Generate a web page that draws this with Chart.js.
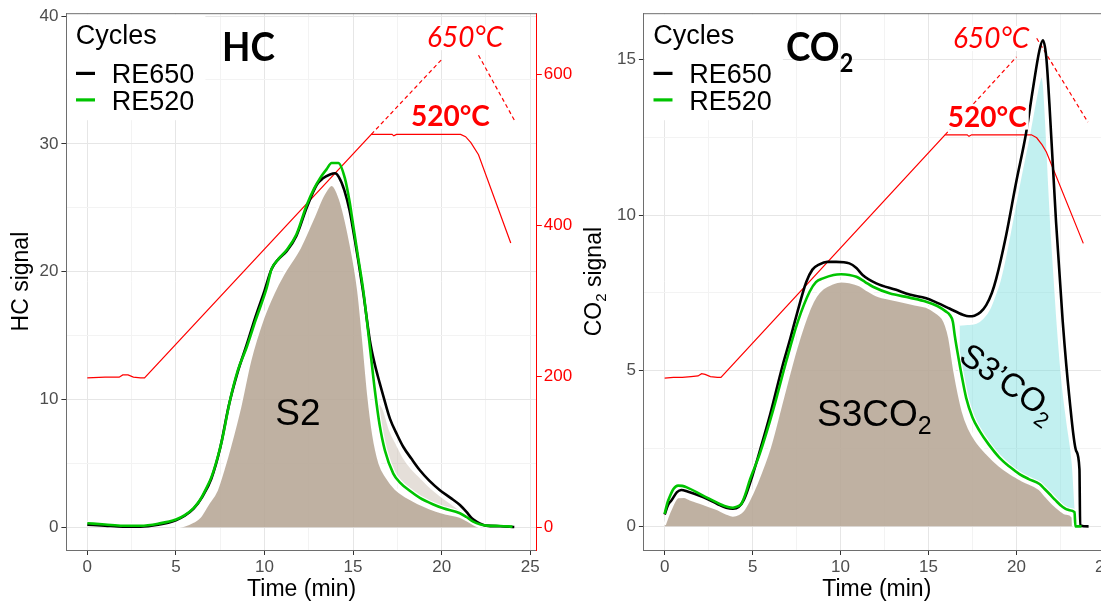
<!DOCTYPE html>
<html>
<head>
<meta charset="utf-8">
<title>HC and CO2 signals</title>
<script src="https://cdn.jsdelivr.net/npm/chart.js@4.4.1/dist/chart.umd.min.js"></script>
<style>
  html, body { margin: 0; padding: 0; background: #fff; overflow: hidden; }
  body { width: 1101px; height: 603px; position: relative; }
  canvas { position: absolute; top: 0; }
  #hcChart { left: 0; }
  #co2Chart { left: 575px; }
</style>
</head>
<body>
<canvas id="hcChart" width="585" height="603"></canvas>
<canvas id="co2Chart" width="585" height="603"></canvas>
<script>
// HC signal (left panel)
const hcTime650 = [0, 1, 2, 3, 4, 5, 5.5, 6, 6.5, 7, 7.5, 8, 8.5, 9, 9.5, 10, 10.4, 10.8, 11.25, 11.8, 12.38, 12.95, 13.3, 13.7, 13.98, 14.2, 14.5, 14.8, 15.0, 15.3, 15.58, 15.95, 16.2, 16.5, 16.7, 17.08, 17.5, 17.83, 18.3, 18.77, 19.3, 19.9, 20.5, 21.03, 21.4, 21.7, 21.97, 22.5, 23.3, 24.1];
const hc650 = [0.2, 0.12, 0.05, 0.05, 0.2, 0.55, 0.9, 1.45, 2.4, 3.8, 6.2, 9.6, 12.2, 14.3, 16.5, 18.5, 20.2, 21.0, 21.6, 22.8, 25.0, 26.8, 27.3, 27.6, 27.7, 27.4, 26.4, 24.8, 23.3, 20.8, 18.3, 14.6, 12.9, 11.3, 10.3, 8.5, 7.2, 6.3, 5.35, 4.46, 3.65, 2.9, 2.3, 1.74, 1.2, 0.7, 0.44, 0.13, 0.08, 0.02];

const hcTime520 = [0, 1, 2, 3, 4, 5, 5.5, 6, 6.36, 6.7, 7.0, 7.3, 7.6, 8.05, 8.5, 9.0, 9.5, 10.12, 10.4, 10.8, 11.25, 11.8, 12.38, 12.8, 13.13, 13.5, 13.79, 14.17, 14.54, 14.8, 15.0, 15.3, 15.58, 15.95, 16.24, 16.5, 16.8, 17.27, 17.65, 18.2, 18.77, 19.5, 20.09, 21.03, 21.4, 21.78, 22.2, 22.54, 23.3, 24.0];
const hc520 = [0.31, 0.22, 0.12, 0.12, 0.28, 0.6, 0.95, 1.5, 2.13, 3.0, 3.9, 5.2, 6.8, 9.9, 12.3, 14.1, 16.2, 18.7, 20.2, 21.0, 21.7, 22.9, 25.2, 26.5, 27.3, 28.0, 28.5, 28.5, 27.3, 25.5, 23.7, 21.0, 18.5, 14.1, 10.6, 8.0, 6.0, 4.2, 3.5, 2.85, 2.3, 1.8, 1.48, 1.1, 0.8, 0.44, 0.22, 0.13, 0.1, 0.05];

// S2 peak area and the RE650 tail beyond RE520
const s2Time = [5.0, 5.5, 6.0, 6.36, 6.8, 7.3, 7.7, 8.05, 8.62, 9.18, 9.93, 10.5, 11.06, 12.0, 12.75, 13.32, 13.79, 14.26, 14.83, 15.3, 15.58, 15.86, 16.14, 16.5, 16.9, 17.4, 18.0, 19.34, 20.2, 21.03, 21.5, 21.97, 22.2];
const s2Area = [0, 0.15, 0.45, 0.83, 1.8, 2.9, 4.6, 6.3, 9.4, 13.0, 16.4, 18.3, 19.8, 21.9, 24.2, 26.0, 26.8, 25.7, 22.4, 18.5, 14.6, 10.4, 7.3, 5.0, 3.9, 3.0, 2.4, 1.48, 1.1, 0.83, 0.5, 0.12, 0];
const hcTailTime = [16.3, 16.7, 17.08, 17.5, 17.83, 18.3, 18.77, 19.3, 19.9, 20.5, 21.03, 21.4, 21.7, 22.0];
const hcTail = [10.0, 9.3, 7.6, 6.4, 5.5, 4.6, 3.95, 3.2, 2.5, 1.9, 1.35, 0.85, 0.45, 0.2];

// oven temperature (°C), measured and extrapolated to 650
const hcTempTime = [0, 1.0, 1.8, 2.0, 2.3, 2.6, 3.0, 3.23, 16.03, 17.2, 17.3, 17.45, 21.07, 21.35, 21.65, 22.08, 23.9];
const hcTemp = [198, 199, 199, 202, 202, 199, 198, 198, 521, 521, 519, 521, 521, 518, 510, 494, 377];
const hcRampTime = [16.03, 20.07, 21.0, 22.08, 24.1];
const hcRamp = [521, 622, null, 626, 540];

// CO2 signal (right panel)
const co2Time650 = [0, 0.2, 0.38, 0.7, 0.95, 1.3, 2.18, 3.0, 3.5, 3.88, 4.2, 4.5, 5.0, 5.5, 6.0, 6.72, 7.1, 7.48, 8.05, 8.4, 8.8, 9.25, 9.75, 10.5, 10.9, 11.27, 12.03, 13.16, 13.92, 14.87, 15.5, 16.19, 16.95, 17.3, 17.61, 17.95, 18.28, 18.6, 18.85, 19.41, 19.98, 20.55, 20.93, 21.31, 21.5, 21.69, 21.88, 22.25, 22.63, 23.01, 23.39, 23.58, 23.62, 24.1];
const co2650 = [0.38, 0.7, 0.83, 1.1, 1.17, 1.12, 0.94, 0.72, 0.6, 0.57, 0.62, 0.85, 1.65, 2.6, 3.6, 5.2, 5.95, 6.75, 7.85, 8.25, 8.42, 8.5, 8.5, 8.45, 8.3, 8.07, 7.81, 7.6, 7.45, 7.33, 7.18, 7.0, 6.8, 6.75, 6.77, 6.88, 7.11, 7.5, 7.96, 9.35, 11.05, 12.65, 14.04, 15.31, 15.62, 15.1, 13.5, 9.78, 6.58, 4.13, 2.43, 1.84, 0.03, 0.0];

const co2Time520 = [0, 0.15, 0.28, 0.5, 0.76, 1.0, 1.23, 2.18, 3.13, 3.6, 3.88, 4.15, 4.36, 4.6, 4.83, 5.4, 6.15, 6.91, 7.57, 8.24, 8.6, 9.0, 9.6, 10.04, 10.5, 10.9, 11.4, 11.84, 12.78, 13.92, 14.87, 15.5, 16.0, 16.2, 16.38, 16.5, 16.67, 16.9, 17.14, 17.5, 17.9, 18.4, 19.03, 19.6, 20.17, 20.7, 21.31, 21.6, 21.88, 22.2, 22.63, 23.0, 23.3, 23.35, 23.7];
const co2520 = [0.4, 0.75, 0.94, 1.2, 1.31, 1.3, 1.26, 0.99, 0.72, 0.62, 0.6, 0.64, 0.72, 1.05, 1.47, 2.32, 3.7, 5.3, 6.58, 7.54, 7.85, 7.97, 8.08, 8.1, 8.08, 8.02, 7.85, 7.7, 7.49, 7.35, 7.22, 7.08, 6.9, 6.8, 6.58, 6.1, 5.52, 4.8, 4.13, 3.5, 3.07, 2.65, 2.21, 1.92, 1.68, 1.52, 1.36, 1.2, 1.04, 0.85, 0.62, 0.52, 0.46, 0.0, 0.0];

// S3CO2 area and the extra S3'CO2 peak of RE650
const s3Time = [0, 0.3, 0.76, 1.1, 1.42, 2.2, 2.94, 3.5, 3.88, 4.2, 4.45, 4.8, 5.21, 5.97, 6.72, 7.48, 8.24, 8.6, 9.0, 9.5, 10.04, 10.5, 11.08, 11.5, 12.03, 13.16, 14.1, 14.87, 15.5, 15.8, 16.0, 16.19, 16.48, 16.95, 17.3, 17.71, 18.3, 19.03, 19.7, 20.36, 21.31, 21.7, 22.06, 22.5, 22.82, 23.2, 23.22];
const s3Area = [0.05, 0.5, 0.94, 0.95, 0.88, 0.72, 0.57, 0.42, 0.35, 0.4, 0.51, 0.85, 1.36, 2.53, 4.13, 5.73, 7.0, 7.4, 7.65, 7.8, 7.88, 7.85, 7.75, 7.6, 7.43, 7.27, 7.15, 7.06, 6.85, 6.69, 6.45, 6.05, 4.98, 3.7, 3.15, 2.75, 2.35, 1.95, 1.68, 1.47, 1.2, 0.95, 0.73, 0.52, 0.41, 0.3, 0];
const s3pTime = [16.76, 17.2, 17.71, 18.1, 18.47, 18.75, 19.03, 19.3, 19.6, 20.17, 20.74, 21.12, 21.3, 21.42, 21.55, 21.7, 21.85, 22.0, 22.3, 22.6, 22.9, 23.2, 23.32, 23.36];
const s3pArea = [6.48, 6.5, 6.54, 6.7, 7.0, 7.4, 7.86, 8.5, 9.35, 11.05, 12.65, 13.82, 14.3, 14.47, 14.2, 12.8, 11.0, 9.4, 6.8, 4.7, 3.3, 2.0, 0.9, 0.5];

const co2TempTime = [0, 0.5, 1.0, 1.5, 1.9, 2.1, 2.3, 2.6, 3.0, 3.2, 15.94, 17.2, 17.3, 17.45, 20.85, 21.15, 21.45, 21.7, 23.8];
const co2Temp = [198, 199, 199, 200, 201, 204, 203, 200, 199, 199, 523, 523, 521, 523, 523, 519, 510, 500, 378];
const co2RampTime = [15.94, 20.0, 20.6, 21.15, 24.06];
const co2Ramp = [523, 627, null, 652, 540];

const cycleNames = ['RE650', 'RE520'];
const tempTicks = [0, 200, 400, 600];

const SANS = '"Liberation Sans", Arial, sans-serif';
const BLACK = '#000000';
const GREEN = '#00c400';
const RED = '#ff0000';
const BROWN = 'rgba(181,164,147,0.86)';

function pts(ts, vs) {
  return ts.map((t, i) => ({ x: t, y: vs[i] }));
}

function isMajor(v, m) {
  return Math.abs(v / m - Math.round(v / m)) < 1e-6;
}

// draws a row of text pieces (used for subscripts)
function drawRuns(ctx, runs, x, y) {
  let cx = x;
  for (const r of runs) {
    ctx.font = r.font;
    ctx.fillText(r.text, cx, y + (r.dy || 0));
    cx += ctx.measureText(r.text).width;
  }
}

function runsWidth(ctx, runs) {
  let w = 0;
  for (const r of runs) {
    ctx.font = r.font;
    w += ctx.measureText(r.text).width;
  }
  return w;
}

// vertical axis title, read bottom to top, centred on (x, y)
function drawAxisTitle(ctx, x, y, runs) {
  ctx.save();
  ctx.translate(x, y);
  ctx.rotate(-Math.PI / 2);
  ctx.fillStyle = '#000';
  ctx.textBaseline = 'alphabetic';
  const tw = runsWidth(ctx, runs);
  drawRuns(ctx, runs, -tw / 2, 8.2);
  ctx.restore();
}

function overlayPlugin(p) {
  return {
    id: 'overlay',
    afterDatasetsDraw(chart) {
      const ctx = chart.ctx;
      const area = chart.chartArea;
      const xs = chart.scales.x;

      // text annotations
      for (const lab of p.labels) {
        const ys = chart.scales[lab.axis || 'y'];
        ctx.save();
        ctx.translate(xs.getPixelForValue(lab.x), ys.getPixelForValue(lab.y));
        if (lab.rotate) ctx.rotate(lab.rotate * Math.PI / 180);
        ctx.scale(lab.sx || 1, 1);
        ctx.textBaseline = 'alphabetic';
        ctx.textAlign = 'left';
        const w = runsWidth(ctx, lab.runs);
        const x0 = lab.center ? -w / 2 : 0;
        if (lab.bg) {
          ctx.fillStyle = '#ffffff';
          ctx.fillRect(x0 - 2, -lab.bg - 2, w + 4, lab.bg + 5);
        }
        ctx.fillStyle = lab.color;
        drawRuns(ctx, lab.runs, x0, 0);
        ctx.restore();
      }

      // legend box in the top-left corner
      const L = area.left, T = area.top;
      ctx.save();
      ctx.fillStyle = '#ffffff';
      ctx.fillRect(L + 1, T + 1, 138, 106);
      ctx.fillStyle = '#000';
      ctx.textBaseline = 'alphabetic';
      ctx.font = '27px ' + SANS;
      ctx.fillText('Cycles', L + 9.4, T + 30.7);
      const keyColors = [BLACK, GREEN];
      cycleNames.forEach((name, i) => {
        const yy = T + 60.2 + i * 26.5;
        ctx.strokeStyle = keyColors[i];
        ctx.lineWidth = 3.2;
        ctx.beginPath();
        ctx.moveTo(L + 9.6, yy);
        ctx.lineTo(L + 28.6, yy);
        ctx.stroke();
        ctx.fillText(name, L + 45.3, yy + 9.7);
      });
      ctx.restore();

      drawAxisTitle(ctx, L + p.yTitleDx, (area.top + area.bottom) / 2, p.yTitle);

      // top border of the panel
      ctx.save();
      ctx.strokeStyle = '#6e6e6e';
      ctx.lineWidth = 1;
      ctx.beginPath();
      ctx.moveTo(area.left, area.top + 0.5);
      ctx.lineTo(area.right, area.top + 0.5);
      ctx.stroke();
      ctx.restore();
    }
  };
}

function buildChart(p) {
  const line = (data, color, width, order, extra) => Object.assign({
    data, borderColor: color, borderWidth: width, pointRadius: 0,
    cubicInterpolationMode: 'monotone', fill: false, order, yAxisID: 'y'
  }, extra || {});

  const datasets = [
    line(pts(p.t650, p.v650), BLACK, 2.6, 1),
    line(pts(p.t520, p.v520), GREEN, 2.6, 0),
    line(pts(p.t520, p.v520), '#ffffff', 5, 3),
    line(pts(p.tempT, p.temp), RED, 1.2, 2, { yAxisID: 'yT', cubicInterpolationMode: 'default', tension: 0 }),
    line(pts(p.rampT, p.ramp), RED, 1.2, 2, { yAxisID: 'yT', cubicInterpolationMode: 'default', tension: 0, borderDash: [4, 3] }),
    line(pts(p.areaT, p.area), '#ffffff', 2.5, 4, { fill: 'origin', backgroundColor: BROWN }),
    line(pts(p.extraT, p.extra), '#ffffff', 2, 5, { fill: { target: 1, above: p.extraColor, below: 'rgba(0,0,0,0)' } })
  ];

  const tickFont = { family: SANS, size: 17 };
  const gridColor = m => c => isMajor(c.tick.value, m) ? '#e6e6e6' : '#f3f3f3';
  const tickColor = m => c => isMajor(c.tick.value, m) ? '#333333' : 'rgba(0,0,0,0)';

  return new Chart(document.getElementById(p.canvas), {
    type: 'line',
    data: { datasets },
    options: {
      responsive: false,
      devicePixelRatio: 1,
      animation: false,
      layout: { padding: { top: 11, left: 0, right: 0, bottom: 0 } },
      plugins: { legend: { display: false }, tooltip: { enabled: false } },
      scales: {
        x: {
          type: 'linear', position: 'bottom', min: p.xRange[0], max: p.xRange[1],
          afterFit: s => { s.height = 53; },
          ticks: {
            stepSize: 2.5, includeBounds: false, autoSkip: false, maxRotation: 0,
            color: '#4d4d4d', font: tickFont, padding: 2,
            callback: v => isMajor(v, 5) ? String(v) : ''
          },
          grid: { color: gridColor(5), tickColor: tickColor(5), tickLength: 5 },
          border: { display: true, color: '#6e6e6e', width: 1 },
          title: { display: true, text: 'Time (min)', color: '#000', font: { family: SANS, size: 23 }, padding: { top: 0, bottom: 0 } }
        },
        y: {
          type: 'linear', position: 'left', min: p.yRange[0], max: p.yRange[1],
          afterFit: s => { s.width = p.leftWidth; },
          ticks: {
            stepSize: p.yStep, includeBounds: false, autoSkip: false,
            color: '#4d4d4d', font: tickFont, padding: 3,
            callback: v => isMajor(v, p.yMajor) ? String(v) : ''
          },
          grid: { color: gridColor(p.yMajor), tickColor: tickColor(p.yMajor), tickLength: 5 },
          border: { display: true, color: '#6e6e6e', width: 1 }
        },
        yT: {
          type: 'linear', position: 'right', min: p.tRange[0], max: p.tRange[1],
          afterFit: s => { s.width = p.rightWidth; },
          afterBuildTicks: s => { s.ticks = tempTicks.map(v => ({ value: v })); },
          ticks: { color: RED, font: tickFont, padding: 2 },
          grid: { drawOnChartArea: false, tickColor: RED, tickLength: 5 },
          border: { display: true, color: RED, width: 1 }
        }
      }
    },
    plugins: [overlayPlugin(p)]
  });
}

const calBold = size => 'bold ' + size + 'px Lato, ' + SANS;
const calItalic = size => 'italic ' + size + 'px Lato, ' + SANS;
const sans = size => size + 'px ' + SANS;

buildChart({
  canvas: 'hcChart',
  xRange: [-1.18, 25.37], yRange: [-1.78, 40.22], tRange: [-30.2, 681.7],
  yStep: 5, yMajor: 10, leftWidth: 66.4, rightWidth: 48.2, yTitleDx: -46.4,
  t650: hcTime650, v650: hc650, t520: hcTime520, v520: hc520,
  areaT: s2Time, area: s2Area,
  extraT: hcTailTime, extra: hcTail, extraColor: 'rgba(181,164,147,0.35)',
  tempT: hcTempTime, temp: hcTemp, rampT: hcRampTime, ramp: hcRamp,
  yTitle: [{ text: 'HC signal', font: sans(23) }],
  labels: [
    { runs: [{ text: '650°C', font: calItalic(28) }], x: 19.17, y: 636.7, axis: 'yT', color: RED, bg: 20 },
    { runs: [{ text: '520°C', font: calBold(28) }], x: 18.27, y: 532, axis: 'yT', color: RED, bg: 20 },
    { runs: [{ text: 'HC', font: calBold(41) }], x: 7.6, y: 36.45, color: '#000', sx: 0.9 },
    { runs: [{ text: 'S2', font: sans(37) }], x: 11.89, y: 7.97, color: '#000', center: true }
  ]
});

buildChart({
  canvas: 'co2Chart',
  xRange: [-1.18, 25.3], yRange: [-0.76, 16.49], tRange: [-31.6, 685.5],
  yStep: 2.5, yMajor: 5, leftWidth: 68.9, rightWidth: 50.3, yTitleDx: -51,
  t650: co2Time650, v650: co2650, t520: co2Time520, v520: co2520,
  areaT: s3Time, area: s3Area,
  extraT: s3pTime, extra: s3pArea, extraColor: 'rgba(120,222,222,0.45)',
  tempT: co2TempTime, temp: co2Temp, rampT: co2RampTime, ramp: co2Ramp,
  yTitle: [{ text: 'CO', font: sans(23) }, { text: '2', font: sans(15), dy: 5 }, { text: ' signal', font: sans(23) }],
  labels: [
    { runs: [{ text: '650°C', font: calItalic(28) }], x: 16.39, y: 639, axis: 'yT', color: RED, bg: 20 },
    { runs: [{ text: '520°C', font: calBold(28) }], x: 16.1, y: 534, axis: 'yT', color: RED, bg: 20 },
    { runs: [{ text: 'CO', font: calBold(41) }, { text: '2', font: calBold(26), dy: 10.7 }], x: 6.9, y: 14.95, color: '#000', sx: 0.9 },
    { runs: [{ text: 'S3CO', font: sans(37) }, { text: '2', font: sans(25), dy: 8 }], x: 8.66, y: 3.24, color: '#000' },
    { runs: [{ text: 'S3\u2019CO', font: sans(33) }, { text: '2', font: sans(22), dy: 8 }], x: 19.18, y: 4.34, color: '#000', center: true, rotate: 35 }
  ]
});
</script>
</body>
</html>
